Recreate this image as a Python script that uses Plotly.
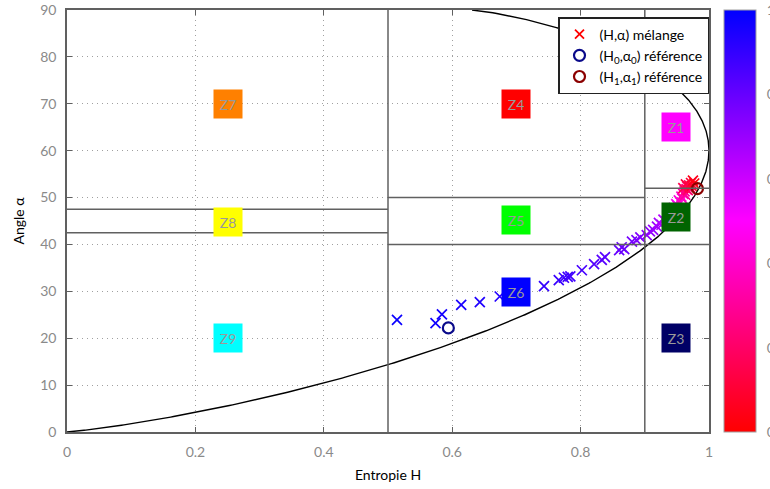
import numpy as np
import plotly.graph_objects as go

# ---- data ----
H_mix = [0.514, 0.574, 0.584, 0.614, 0.643, 0.674, 0.710, 0.743, 0.766, 0.774,
         0.780, 0.784, 0.802, 0.821, 0.833, 0.838, 0.860, 0.864, 0.868, 0.880,
         0.887, 0.893, 0.903, 0.908, 0.913, 0.919, 0.922, 0.926, 0.929, 0.932,
         0.935, 0.937, 0.940, 0.942, 0.945, 0.947, 0.949, 0.951, 0.953, 0.955,
         0.957, 0.958, 0.960, 0.962, 0.963, 0.965, 0.966, 0.967, 0.969, 0.970,
         0.972, 0.973, 0.975, 0.964, 0.960, 0.977]
alpha_mix = [23.9, 23.2, 25.1, 27.1, 27.7, 28.9, 29.9, 31.1, 32.4, 32.9,
             33.1, 33.2, 34.5, 35.8, 36.7, 37.3, 38.8, 39.4, 39.0, 40.6,
             40.9, 41.5, 42.0, 42.8, 43.1, 43.8, 44.6, 44.2, 45.3, 45.0,
             46.0, 46.6, 46.3, 47.3, 47.8, 47.5, 48.6, 48.2, 49.4, 49.0,
             50.2, 49.8, 50.8, 51.3, 50.6, 51.8, 52.4, 51.6, 52.6, 52.2,
             53.1, 52.5, 53.6, 52.8, 52.0, 53.0]
frac_mix = [0.98, 0.97, 0.96, 0.95, 0.94, 0.93, 0.92, 0.90, 0.89, 0.88,
            0.88, 0.87, 0.86, 0.84, 0.83, 0.83, 0.80, 0.79, 0.79, 0.77,
            0.76, 0.75, 0.73, 0.72, 0.71, 0.69, 0.67, 0.66, 0.64, 0.63,
            0.61, 0.59, 0.57, 0.55, 0.53, 0.51, 0.49, 0.47, 0.45, 0.42,
            0.40, 0.37, 0.34, 0.31, 0.29, 0.26, 0.23, 0.20, 0.17, 0.14,
            0.11, 0.08, 0.05, 0.12, 0.15, 0.03]

H_ref0 = [0.594]
alpha_ref0 = [22.2]
H_ref1 = [0.982]
alpha_ref1 = [51.9]

zone_names = ["Z1", "Z2", "Z3", "Z4", "Z5", "Z6", "Z7", "Z8", "Z9"]
zone_H = [0.949, 0.949, 0.949, 0.699, 0.699, 0.699, 0.251, 0.251, 0.251]
zone_alpha = [65, 45.9, 20, 70, 45.2, 29.9, 70, 44.8, 20]
zone_colors = ["#ff00ff", "#006400", "#000066", "#ff0000", "#00ff00",
               "#0000ff", "#ff8000", "#ffff00", "#00ffff"]

# zone boundaries: vertical lines (H) and horizontal segments (H0, H1, alpha)
v_lines_H = [0.5, 0.9]
h_seg_H0 = [0.0, 0.0, 0.5, 0.5, 0.9, 0.9]
h_seg_H1 = [0.5, 0.5, 0.9, 0.9, 1.0, 1.0]
h_seg_alpha = [42.5, 47.5, 40, 50, 40, 52]

x_ticks = [0, 0.2, 0.4, 0.6, 0.8, 1]
x_tick_text = ["0", "0.2", "0.4", "0.6", "0.8", "1"]
y_ticks = [0, 10, 20, 30, 40, 50, 60, 70, 80, 90]
cb_ticks = [0, 0.2, 0.4, 0.6, 0.8, 1]

# ---- theoretical feasible-region boundary of the H/alpha plane ----
def entropy3(p):
    p = np.asarray(p, dtype=float)
    with np.errstate(divide="ignore", invalid="ignore"):
        t = np.where(p > 0, p * np.log(p) / np.log(3), 0.0)
    return -t.sum(axis=0)

m1 = np.linspace(0, 1, 400) ** 2
p1 = np.vstack([1 / (1 + 2 * m1), m1 / (1 + 2 * m1), m1 / (1 + 2 * m1)])
H_c1 = entropy3(p1)
a_c1 = 90 * 2 * m1 / (1 + 2 * m1)
m2 = np.linspace(1, 0.5, 300)
p2 = np.vstack([(2 * m2 - 1) / (2 * m2 + 1), 1 / (2 * m2 + 1), 1 / (2 * m2 + 1)])
H_c2 = entropy3(p2)
a_c2 = 90 * 2 / (2 * m2 + 1)
H_curve = np.concatenate([H_c1, H_c2])
a_curve = np.concatenate([a_c1, a_c2])

colorscale = [[0, "#ff0000"], [0.5, "#ff00ff"], [1, "#0000ff"]]
FONT = "Lato, 'DejaVu Sans', sans-serif"
GRAY_TXT = "#8a8a8a"
LINE = "#606060"
GRID_DASH = "1px,4px"

fig = go.Figure()

fig.add_trace(go.Scatter(x=H_curve, y=a_curve, mode="lines",
                         line=dict(color="black", width=1.4),
                         showlegend=False, hoverinfo="skip"))

fig.add_trace(go.Scatter(
    x=H_mix, y=alpha_mix, mode="markers", showlegend=False,
    marker=dict(symbol="x-thin", size=10, color=frac_mix, colorscale=colorscale,
                cmin=0, cmax=1,
                line=dict(width=1.7, color=frac_mix, colorscale=colorscale,
                          cmin=0, cmax=1),
                showscale=True,
                colorbar=dict(x=(724 - 67) / 642, xanchor="left", xpad=0,
                              y=0.5, yanchor="middle", len=1, lenmode="fraction",
                              ypad=0,
                              thickness=32, thicknessmode="pixels",
                              outlinecolor="#a0a0a0", outlinewidth=1,
                              tickvals=cb_ticks, ticks="outside", ticklen=8,
                              tickcolor="rgba(0,0,0,0)",
                              tickfont=dict(family=FONT, size=14, color=GRAY_TXT)))))

# legend entries
fig.add_trace(go.Scatter(x=[None], y=[None], mode="markers", name="(H,α) mélange",
                         marker=dict(symbol="x-thin", size=9, color="#ff0000",
                                     line=dict(width=1.8, color="#ff0000"))))
fig.add_trace(go.Scatter(x=H_ref0, y=alpha_ref0, mode="markers",
                         name="(H<sub>0</sub>,α<sub>0</sub>) référence",
                         marker=dict(symbol="circle-open", size=11, color="#0a0a8a",
                                     line=dict(width=2.2, color="#0a0a8a"))))
fig.add_trace(go.Scatter(x=H_ref1, y=alpha_ref1, mode="markers",
                         name="(H<sub>1</sub>,α<sub>1</sub>) référence",
                         marker=dict(symbol="circle-open", size=11, color="#8b0000",
                                     line=dict(width=2.2, color="#8b0000"))))

shapes = []
for h in v_lines_H:
    shapes.append(dict(type="line", xref="x", yref="y", x0=h, x1=h, y0=0, y1=90,
                       line=dict(color=LINE, width=1.5), layer="above"))
for a, b, al in zip(h_seg_H0, h_seg_H1, h_seg_alpha):
    shapes.append(dict(type="line", xref="x", yref="y", x0=a, x1=b, y0=al, y1=al,
                       line=dict(color=LINE, width=1.5), layer="above"))

annotations = []
for name, h, al, c in zip(zone_names, zone_H, zone_alpha, zone_colors):
    annotations.append(dict(x=h, y=al, xref="x", yref="y", text=name, showarrow=False,
                            bgcolor=c, width=28, height=28, borderpad=0,
                            font=dict(family=FONT, size=14, color="#999999")))

fig.update_layout(
    width=770, height=489,
    margin=dict(l=67, r=61, t=10, b=57, autoexpand=False),
    paper_bgcolor="white", plot_bgcolor="white",
    font=dict(family=FONT, size=14, color="black"),
    shapes=shapes, annotations=annotations,
    legend=dict(x=1, xanchor="right", y=(432 - 17) / 422, yanchor="top",
                bgcolor="white", bordercolor="#222222", borderwidth=1.5,
                font=dict(family=FONT, size=14, color="black"),
                tracegroupgap=0, itemwidth=30),
    xaxis=dict(range=[0, 1], tickvals=x_ticks, ticktext=x_tick_text,
               showgrid=True, gridcolor="#a0a0a0", griddash=GRID_DASH, gridwidth=1,
               zeroline=False, showline=True, linecolor=LINE, linewidth=1.5,
               mirror="ticks", ticks="inside", ticklen=5, tickcolor=LINE,
               tickfont=dict(family=FONT, size=14, color=GRAY_TXT),
               ticklabelstandoff=6, ticklabeloverflow="allow",
               title=dict(text="Entropie H", standoff=12,
                          font=dict(family=FONT, size=14, color="black"))),
    yaxis=dict(range=[0, 90], tickvals=y_ticks,
               showgrid=True, gridcolor="#a0a0a0", griddash=GRID_DASH, gridwidth=1,
               zeroline=False, showline=True, linecolor=LINE, linewidth=1.5,
               mirror="ticks", ticks="inside", ticklen=5, tickcolor=LINE,
               tickfont=dict(family=FONT, size=14, color=GRAY_TXT),
               ticklabelstandoff=6, ticklabeloverflow="allow",
               title=dict(text="Angle α", standoff=12,
                          font=dict(family=FONT, size=14, color="black"))),
)

# remove the browser's default page margin so the figure sits at the window origin
fig.write_html("out.html", config={"displayModeBar": False},
               post_script="document.body.style.margin='0';document.body.style.padding='0';")
